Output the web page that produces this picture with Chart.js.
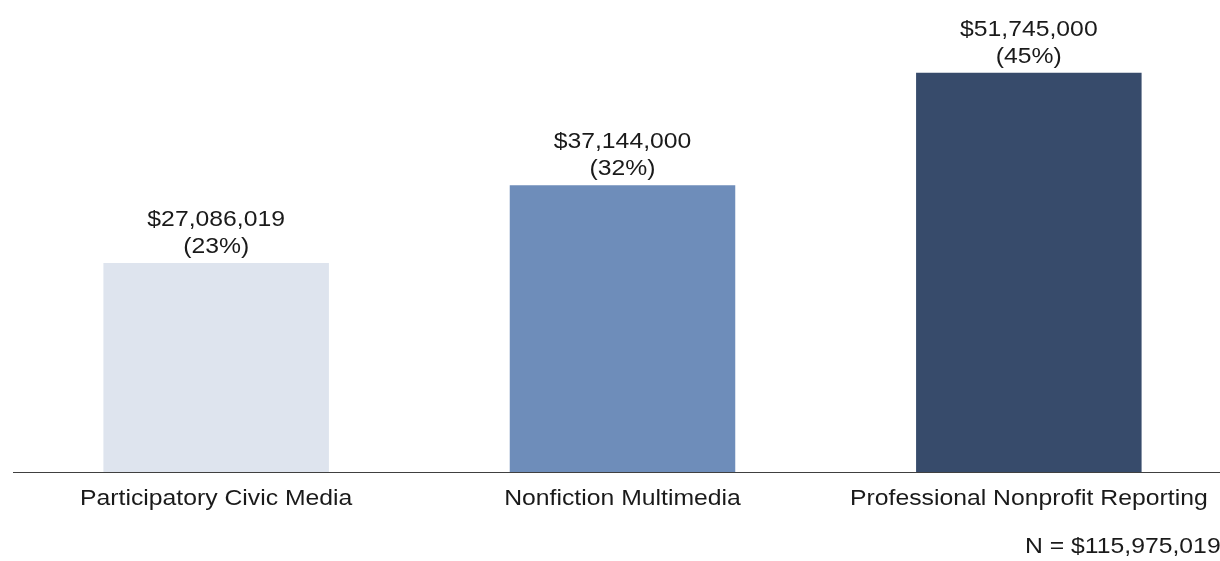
<!DOCTYPE html>
<html>
<head>
<meta charset="utf-8">
<script src="https://cdn.jsdelivr.net/npm/chart.js@4"></script>
<style>
html,body{margin:0;padding:0;background:#fff;overflow:hidden;width:1220px;height:561px;}
canvas{display:block;}
</style>
</head>
<body>
<canvas id="c" width="1232" height="561"></canvas>
<script>
const categories = ["Participatory Civic Media", "Nonfiction Multimedia", "Professional Nonprofit Reporting"];
const amounts = [27086019, 37144000, 51745000];
const percents = ["23%", "32%", "45%"];
const totalLabel = "N = $115,975,019";
const barColors = ["#DEE4EE", "#6E8DBA", "#374B6B"];

const FONT = "'Liberation Sans', Arial, sans-serif";
const FONT_SIZE = 22.5;
const STRETCH = 1.1;
const fmt = v => "$" + v.toLocaleString("en-US");

function stretchedText(ctx, text, x, y, align) {
  ctx.save();
  ctx.translate(x, y);
  ctx.scale(STRETCH, 1);
  ctx.textAlign = align;
  ctx.fillText(text, 0, 0);
  ctx.restore();
}

const labelPlugin = {
  id: "barLabels",
  afterDatasetsDraw(chart) {
    const ctx = chart.ctx;
    const meta = chart.getDatasetMeta(0);
    const xs = chart.scales.x;
    ctx.save();
    ctx.fillStyle = "#1a1a1a";
    ctx.font = FONT_SIZE + "px " + FONT;
    ctx.textBaseline = "alphabetic";
    meta.data.forEach((bar, i) => {
      stretchedText(ctx, fmt(amounts[i]), bar.x, bar.y - 37, "center");
      stretchedText(ctx, "(" + percents[i] + ")", bar.x, bar.y - 10, "center");
    });
    categories.forEach((c, i) => {
      stretchedText(ctx, c, xs.getPixelForTick(i), xs.top + 33, "center");
    });
    stretchedText(ctx, totalLabel, 1025, 553, "left");
    ctx.restore();
  }
};

new Chart(document.getElementById("c"), {
  type: "bar",
  data: {
    labels: categories,
    datasets: [{
      data: amounts,
      backgroundColor: barColors,
      borderWidth: 0,
      categoryPercentage: 1,
      barPercentage: 0.555
    }]
  },
  options: {
    responsive: false,
    devicePixelRatio: 1,
    animation: false,
    layout: { padding: { left: 13, right: 0, top: 9, bottom: 0 } },
    plugins: { legend: { display: false }, tooltip: { enabled: false } },
    scales: {
      x: {
        grid: { display: false, drawTicks: false },
        border: { display: true, color: "#404040", width: 1 },
        ticks: { display: false },
        afterFit(scale) { scale.height = 89; }
      },
      y: {
        display: false,
        min: 0,
        max: 60000000
      }
    }
  },
  plugins: [labelPlugin]
});
</script>
</body>
</html>
